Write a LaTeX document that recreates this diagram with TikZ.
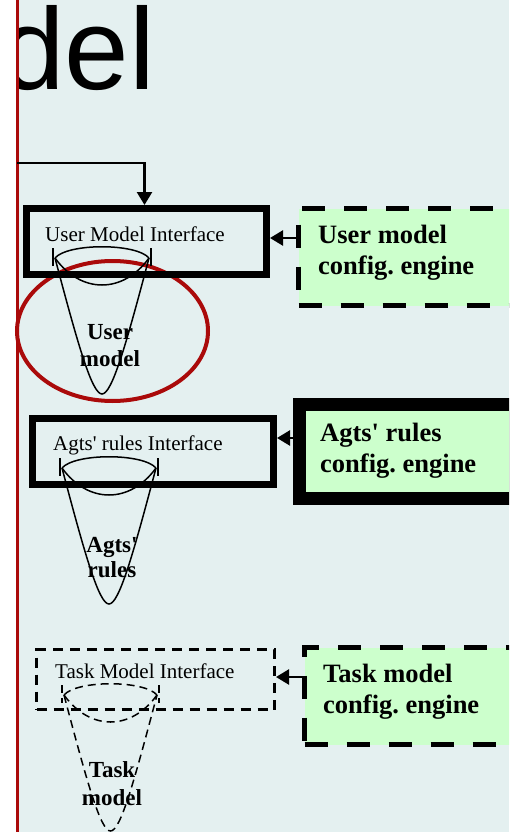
\documentclass[tikz,border=0pt]{standalone}
\usepackage{fontspec}
\setmainfont{Liberation Serif}
\newfontfamily\headfont{Liberation Sans}
\usetikzlibrary{arrows.meta}
\frenchspacing

\definecolor{slidebg}{HTML}{E4F0F0}
\definecolor{engfill}{HTML}{CCFFCC}
\definecolor{rimred}{HTML}{AA0A0A}

\newcommand{\sq}{\textquotesingle}

% funnel: #1 left x, #2 right x, #3 top of the rim ticks, #4 apex y, #5 line style
\newcommand{\funnel}[5]{%
  \draw[#5] (#1,#3) -- (#1,#3+18) (#2,#3) -- (#2,#3+18);
  \draw[#5] (#1+2,#3+10) .. controls (#1+15,#3-5) and (#2-15,#3-5) .. (#2-2,#3+10);
  \draw[#5] (#1+2,#3+10) .. controls (#1+28,#3+46) and (#2-28,#3+46) .. (#2-2,#3+10);
  \draw[#5] (#1+2,#3+10) .. controls (#1+25,#3+97) and ({(#1+#2)/2-10},#4) .. ({(#1+#2)/2},#4)
            .. controls ({(#1+#2)/2+10},#4) and (#2-25,#3+97) .. (#2-2,#3+10);
}

\tikzset{
  ifbox/.style={draw=black, line width=7pt, inner sep=0pt, rectangle},
  ifboxdash/.style={draw=black, line width=3pt, inner sep=0pt, rectangle,
                    dash pattern=on 10pt off 7pt},
  engbox/.style={draw=black, fill=engfill, line width=5pt, inner sep=0pt, rectangle,
                 dash pattern=on 23pt off 19pt},
  engboxsolid/.style={draw=black, fill=engfill, line width=13pt, inner sep=0pt, rectangle},
  iflabel/.style={anchor=base west, inner sep=0pt, font=\fontsize{21}{25}\selectfont},
  englabel/.style={anchor=base west, inner sep=0pt, align=left,
                   font=\fontsize{26.5}{31}\selectfont\bfseries},
  conelabel/.style={anchor=base, inner sep=0pt, align=center,
                    font=\fontsize{23}{27}\selectfont\bfseries},
  arr/.style={draw=black, line width=2.5pt,
              -{Triangle[length=13pt,width=15pt]}},
  conesolid/.style={line width=1.5pt, black},
  conedash/.style={line width=1.5pt, black, dash pattern=on 8pt off 5pt},
}

\begin{document}
\begin{tikzpicture}[x=1pt, y=-1pt]
  \useasboundingbox (0,0) rectangle (509,832);
  \clip (0,0) rectangle (509,832);

  % slide background, white margin and red rule
  \fill[slidebg] (0,0) rectangle (509,832);
  \fill[white] (0,0) rectangle (16,832);

  % heading fragment
  \begin{scope}
    \clip (17,0) rectangle (509,832);
    \node[anchor=base west, inner sep=0pt, font=\headfont\fontsize{116}{120}\selectfont]
      (head) at (0,90) {del};
  \end{scope}

  % user model highlight
  \draw[rimred, line width=4pt] (112.5,331) ellipse [x radius=95.5, y radius=70];

  \draw[rimred, line width=3pt] (17,0) -- (17,832);

  % interface boxes
  \node[ifbox, minimum width=240pt, minimum height=66pt] (uif) at (146.5,241.5) {};
  \node[ifbox, minimum width=241pt, minimum height=66pt] (aif) at (153,451.5) {};
  \node[ifboxdash, minimum width=238pt, minimum height=60pt] (tif) at (155.5,679.5) {};

  % configuration engines (their right sides run past the frame)
  \node[engbox, minimum width=216.5pt, minimum height=97pt] (ucfg) at (406.75,257) {};
  \node[engboxsolid, minimum width=215.5pt, minimum height=94pt] (acfg) at (407.25,451.5) {};
  \node[engbox, minimum width=210.5pt, minimum height=97pt] (tcfg) at (409.75,696) {};

  % connectors
  \coordinate (feed) at (17,163);
  \draw[arr] (feed) -| ([xshift=-2pt]uif.north);
  \draw[arr] (ucfg.west |- 0,238) -- (uif.east |- 0,238);
  \draw[arr] (acfg.west |- 0,438) -- (aif.east |- 0,438);
  \draw[arr] (tcfg.west |- 0,677) -- (tif.east |- 0,677);

  % model funnels
  \funnel{53}{151}{248}{394}{conesolid}
  \funnel{60}{158}{458}{604}{conesolid}
  \funnel{62}{159}{685}{831}{conedash}

  % texts (multi-line nodes are placed by the baseline of their last line)
  \node[iflabel] (uiftxt) at (45,241) {User Model Interface};
  \node[iflabel] (aiftxt) at (53,450) {Agts\sq{} rules Interface};
  \node[iflabel] (tiftxt) at (55,678) {Task Model Interface};

  \node[englabel] (ucfgtxt) at (318,274) {User model\\config. engine};
  \node[englabel] (acfgtxt) at (320,472) {Agts\sq{} rules\\config. engine};
  \node[englabel] (tcfgtxt) at (323,713) {Task model\\config. engine};

  \node[conelabel] (utxt) at (110,366) {User\\model};
  \node[conelabel, font=\fontsize{23}{25}\selectfont\bfseries] (atxt) at (112,577) {Agts\sq\\rules};
  \node[conelabel, font=\fontsize{23}{28}\selectfont\bfseries] (ttxt) at (112,805) {Task\\model};
\end{tikzpicture}
\end{document}
